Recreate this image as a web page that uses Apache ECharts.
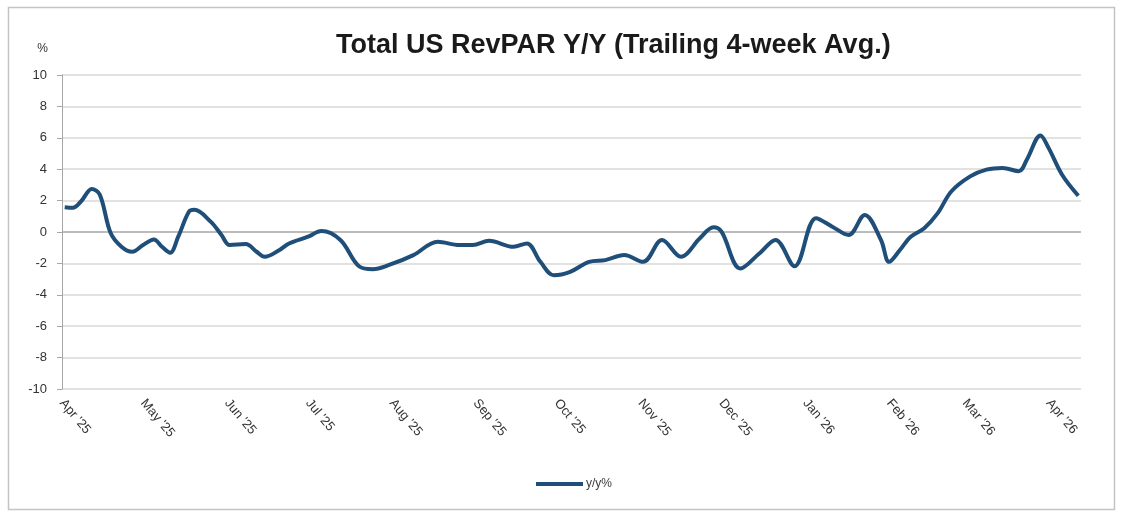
<!DOCTYPE html>
<html>
<head>
<meta charset="utf-8">
<script src="https://cdn.jsdelivr.net/npm/echarts@6/dist/echarts.min.js"></script>
<style>
  html, body { margin: 0; padding: 0; background: #fff; }
</style>
</head>
<body>
<div id="revpar" style="width:1122px;height:513px"></div>
<script>
// dates (trailing 4-week avg, y/y %)
var dates = [
  '2025-04-02', '2025-04-05', '2025-04-08', '2025-04-12', '2025-04-15', '2025-04-19',
  '2025-04-23', '2025-04-27', '2025-05-01', '2025-05-05', '2025-05-08', '2025-05-11',
  '2025-05-14', '2025-05-18', '2025-05-20', '2025-05-26', '2025-05-30', '2025-06-02',
  '2025-06-08', '2025-06-12', '2025-06-15', '2025-06-20', '2025-06-24', '2025-07-01',
  '2025-07-06', '2025-07-13', '2025-07-20', '2025-07-25', '2025-07-31', '2025-08-09',
  '2025-08-18', '2025-08-26', '2025-08-31', '2025-09-06', '2025-09-15', '2025-09-20',
  '2025-09-25', '2025-09-30', '2025-10-06', '2025-10-13', '2025-10-19', '2025-10-26',
  '2025-11-02', '2025-11-09', '2025-11-16', '2025-11-23', '2025-11-28', '2025-12-01',
  '2025-12-08', '2025-12-15', '2025-12-21', '2025-12-28', '2026-01-05', '2026-01-11',
  '2026-01-17', '2026-01-23', '2026-01-29', '2026-02-01', '2026-02-05', '2026-02-09',
  '2026-02-14', '2026-02-19', '2026-02-24', '2026-03-03', '2026-03-09', '2026-03-15',
  '2026-03-21', '2026-03-24', '2026-03-29', '2026-04-01', '2026-04-06', '2026-04-12'
]
var yoy = [
  1.58, 1.54, 1.94, 2.74, 2.37, -0.07,
  -0.94, -1.26, -0.83, -0.47, -0.94, -1.32,
  -0.3, 1.3, 1.41, 0.66, -0.19, -0.83,
  -0.77, -1.26, -1.58, -1.2, -0.73, -0.3,
  0.06, -0.51, -2.2, -2.37, -2.1, -1.47,
  -0.62, -0.83, -0.83, -0.56, -0.94, -0.73,
  -1.9, -2.76, -2.54, -1.9, -1.79, -1.47,
  -1.9, -0.51, -1.58, -0.4, 0.3, 0.02,
  -2.33, -1.37, -0.51, -2.18, 0.88, 0.34,
  -0.19, 1.09, -0.51, -1.9, -1.15, -0.3,
  0.24, 1.2, 2.58, 3.54, 3.97, 4.08,
  3.87, 4.62, 6.15, 5.36, 3.65, 2.31
]
// month label positions
var tickDates = [
  '2025-04-01', '2025-05-01', '2025-06-01', '2025-07-01', '2025-08-01', '2025-09-01', '2025-10-01',
  '2025-11-01', '2025-12-01', '2026-01-01', '2026-02-01', '2026-03-01', '2026-04-01'
]
var monthNames = ['Jan', 'Feb', 'Mar', 'Apr', 'May', 'Jun', 'Jul', 'Aug', 'Sep', 'Oct', 'Nov', 'Dec']

function toTs (s) {
  var p = s.split('-')
  return Date.UTC(+p[0], +p[1] - 1, +p[2])
}

var points = dates.map(function (d, i) { return [toTs(d), yoy[i]] })
var ticks = tickDates.map(toTs)

// 11 split lines from -10 to 10, the zero line darker
var gridColors = ['#d9d9d9', '#d9d9d9', '#d9d9d9', '#d9d9d9', '#d9d9d9', '#a6a6a6',
  '#d9d9d9', '#d9d9d9', '#d9d9d9', '#d9d9d9', '#d9d9d9']

var chart = echarts.init(document.getElementById('revpar'))
var option = {
  animation: false,
  backgroundColor: '#fff',
  title: {
    text: 'Total US RevPAR Y/Y (Trailing 4-week Avg.)',
    left: 331,
    top: 27,
    textStyle: {
      fontFamily: 'Liberation Sans',
      fontWeight: 'bold',
      fontSize: 27,
      color: '#1a1a1a'
    }
  },
  graphic: [{
    type: 'rect',
    shape: { x: 8.5, y: 7.5, width: 1106, height: 502 },
    style: { fill: 'none', stroke: '#c4c4c4', lineWidth: 1.5 },
    silent: true
  }],
  legend: {
    left: 531,
    bottom: 18,
    icon: 'rect',
    itemWidth: 47,
    itemHeight: 4,
    itemGap: 4,
    textStyle: { fontFamily: 'Liberation Sans', fontSize: 12, color: '#404040', padding: [0, 0, 0, -2] },
    data: ['y/y%']
  },
  grid: {
    left: 62,
    right: 41,
    top: 75,
    bottom: 124
  },
  xAxis: {
    type: 'value',
    min: toTs('2025-04-01'),
    max: toTs('2026-04-13'),
    axisLine: { show: false },
    axisTick: { show: false },
    splitLine: { show: false },
    axisLabel: {
      customValues: ticks,
      rotate: -50,
      margin: 12,
      fontFamily: 'Liberation Sans',
      fontSize: 13,
      color: '#333',
      formatter: function (v) {
        var d = new Date(v)
        return monthNames[d.getUTCMonth()] + " '" + String(d.getUTCFullYear()).slice(2)
      }
    }
  },
  yAxis: {
    type: 'value',
    min: -10,
    max: 10,
    interval: 2,
    name: '%',
    nameLocation: 'end',
    nameGap: 20,
    nameTextStyle: {
      fontFamily: 'Liberation Sans',
      fontSize: 12,
      color: '#333',
      align: 'right',
      padding: [0, 14, 0, 0]
    },
    axisLine: { show: true, lineStyle: { color: '#a6a6a6', width: 1 } },
    axisTick: { show: true, length: 5, lineStyle: { color: '#a6a6a6' } },
    splitLine: { show: true, lineStyle: { color: gridColors, width: 1.5 } },
    axisLabel: {
      margin: 15,
      fontFamily: 'Liberation Sans',
      fontSize: 13,
      color: '#333'
    }
  },
  series: [
    {
      name: 'y/y%',
      type: 'line',
      data: points,
      smooth: 0.35,
      showSymbol: false,
      color: '#1f4e79',
      lineStyle: { width: 4, color: '#1f4e79' }
    }
  ]
}
chart.setOption(option)
</script>
</body>
</html>
